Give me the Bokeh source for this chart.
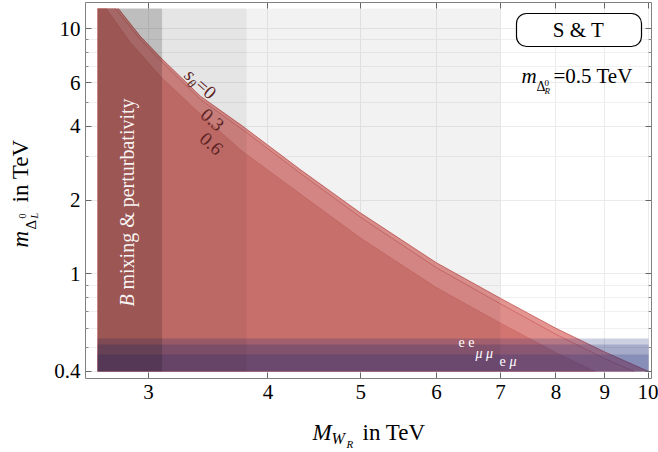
import math
from bokeh.plotting import figure
from bokeh.models import Range1d, FixedTicker, LogAxis, Label, BoxAnnotation, CustomJSTickFormatter, GridBox
from bokeh.embed import file_html
from bokeh.resources import INLINE

# ---------------- data ----------------
# exclusion curves m_DeltaL(M_WR) for s_theta = 0, 0.3, 0.6
x_s00 = [2.79, 2.94, 3.10, 3.40, 3.75, 4.33, 5.0, 6.0, 7.0, 8.0, 9.0, 10.0]
y_s00 = [12.07, 9.32, 7.51, 5.30, 4.04, 2.65, 1.77, 1.11, 0.795, 0.60, 0.48, 0.40]
x_s03 = [2.77, 2.94, 3.10, 3.40, 3.75, 4.33, 5.0, 6.0, 7.0, 8.0, 9.0, 9.65]
y_s03 = [12.07, 9.06, 7.30, 5.14, 3.91, 2.56, 1.70, 1.06, 0.755, 0.567, 0.451, 0.40]
x_s06 = [2.71, 2.87, 3.10, 3.40, 3.75, 4.33, 5.0, 6.0, 7.0, 8.0, 8.8]
y_s06 = [12.07, 8.81, 6.28, 4.48, 3.19, 2.11, 1.40, 0.88, 0.63, 0.478, 0.40]
region_xmin = 2.654
region_xmax = 10.0
region_ymin = 0.40
region_ymax = 12.07
# grey bounds (B mixing & perturbativity, etc.)
grey_right = [7.0, 3.8, 3.1]
grey_alpha = [0.05, 0.05, 0.17]
# lepton-flavour bands (ee, mu mu, e mu)
band_names = ["e e", "μ μ", "e μ"]
band_top = [0.545, 0.515, 0.469]

x_ticks = [3, 4, 5, 6, 7, 8, 9, 10]
y_ticks = [0.4, 1, 2, 4, 6, 10]
y_minor = [0.5, 0.6, 0.7, 0.8, 0.9, 3, 5, 7, 8, 9]

W, H = 658, 452
SERIF = "Liberation Serif"

p = figure(width=W, height=H, x_axis_type="log", y_axis_type="log",
           x_range=Range1d(2.578, 10.07), y_range=Range1d(0.3745, 12.77),
           output_backend="svg", toolbar_location=None,
           min_border_left=85, min_border_right=7, min_border_top=2, min_border_bottom=74)
p.frame_align = False
p.outline_line_color = "#808080"
p.outline_line_width = 1
p.background_fill_color = "white"

p.xgrid.ticker = FixedTicker(ticks=x_ticks)
p.ygrid.ticker = FixedTicker(ticks=y_ticks, minor_ticks=y_minor)
p.xgrid.grid_line_color = "#ebebeb"
p.ygrid.grid_line_color = "#ebebeb"
p.ygrid.minor_grid_line_color = "#f0f0f0"

fmt = CustomJSTickFormatter(code="return tick.toString();")

def style_axis(ax, labels=True):
    ax.axis_line_color = None
    ax.major_tick_in = 6
    ax.major_tick_out = 0
    ax.minor_tick_in = 3
    ax.minor_tick_out = 0
    ax.major_tick_line_color = "#666666"
    ax.minor_tick_line_color = "#888888"
    ax.formatter = fmt
    if labels:
        ax.major_label_text_font = SERIF
        ax.major_label_text_font_size = "21px"
        ax.major_label_text_color = "black"
    else:
        ax.major_label_text_font_size = "0px"
        ax.major_label_text_color = None
        ax.major_label_standoff = 0

xa = p.xaxis[0]
xa.ticker = FixedTicker(ticks=x_ticks)
style_axis(xa)
xa.major_label_standoff = 6
ya = p.yaxis[0]
ya.ticker = FixedTicker(ticks=y_ticks, minor_ticks=y_minor)
style_axis(ya)
ya.major_label_standoff = 5

top = LogAxis(ticker=FixedTicker(ticks=x_ticks))
style_axis(top, labels=False)
p.add_layout(top, "above")
right = LogAxis(ticker=FixedTicker(ticks=y_ticks, minor_ticks=y_minor))
style_axis(right, labels=False)
p.add_layout(right, "right")

def region(xs, ys):
    return [region_xmin, region_xmin] + xs, [region_ymin, region_ymax] + ys

for xs, ys, col in [(x_s00, y_s00, "#e39592"), (x_s03, y_s03, "#de8d8a"), (x_s06, y_s06, "#d27571")]:
    rx, ry = region(xs, ys)
    p.patch(rx, ry, fill_color=col, line_color=None)
for xs, ys, a in [(x_s00, y_s00, 0.8), (x_s03, y_s03, 0.6), (x_s06, y_s06, 0.35)]:
    p.line(xs, ys, line_color="#c45552", line_alpha=a, line_width=1)

p.quad(left=[region_xmin] * 3, right=[region_xmax] * 3, bottom=[region_ymin] * 3, top=band_top,
       fill_color="#1c2a77", fill_alpha=0.22, line_color=None)

p.quad(left=[region_xmin] * 3, right=grey_right, bottom=[region_ymin] * 3, top=[region_ymax] * 3,
       fill_color="black", fill_alpha=grey_alpha, line_color=None)

# ---------- transparent overlay for texts (page-pixel coordinates) ----------
q = figure(width=W, height=H, x_range=Range1d(0, W), y_range=Range1d(0, H),
           output_backend="svg", toolbar_location=None, title=None,
           x_axis_location=None, y_axis_location=None,
           min_border_left=0, min_border_right=0, min_border_top=0, min_border_bottom=0)
q.frame_align = False
q.xgrid.visible = False
q.ygrid.visible = False
q.outline_line_color = None
q.background_fill_color = None
q.border_fill_color = None

K = 0.32  # baseline correction (fraction of font size)

def lab(text, px, py, size, italic=False, color="black", angle=0.0, align="left", baseline="alphabetic", alpha=1.0):
    if baseline == "alphabetic":
        px -= K * size * math.sin(angle)
        py -= K * size * math.cos(angle)
    q.add_layout(Label(x=px, y=H - py, text=text, text_font=SERIF, text_font_size=f"{size}px",
                       text_font_style="italic" if italic else "normal", text_color=color, text_alpha=alpha,
                       angle=angle, text_align=align, text_baseline=baseline))

# x axis label
lab("M", 312, 439, 23, True)
lab("W", 331, 443, 16, True)
lab("R", 346, 447, 11, True)
lab("in TeV", 362, 439, 23)

# y axis label (rotated)
R90 = math.pi / 2
lab("m", 27, 247, 23, True, angle=R90)
lab("Δ", 35, 229, 15, angle=R90)
lab("0", 25, 218, 10, angle=R90)
lab("L", 37, 218, 10, True, angle=R90)
lab("in TeV", 27, 202, 23, angle=R90)

# legend box
q.add_layout(BoxAnnotation(left=516, right=641, top=H - 13, bottom=H - 46,
                           fill_color="white", fill_alpha=1, line_color="black", line_alpha=1,
                           line_width=1.2, border_radius=10))
lab("S & T", 578, 36, 21, align="center")

# m_DeltaR text
lab("m", 521, 82, 21, True)
lab("Δ", 536, 90, 14)
lab("0", 544, 85, 9)
lab("R", 544, 93, 9, True)
lab("=0.5 TeV", 553, 82, 21)

# B mixing text
lab("B", 133, 306, 20, True, color="white", angle=R90, alpha=0.95)
lab("mixing & perturbativity", 133, 289, 20, color="white", angle=R90, alpha=0.95)

# curve labels
A = -math.radians(42)
CRV = "#5c2424"
lab("s", 183, 76, 19, True, color=CRV, angle=A)
lab("θ", 186, 84, 13, True, color=CRV, angle=A)
lab("=0", 194, 86, 19, color=CRV, angle=A)
lab("0.3", 212, 119, 19, color=CRV, angle=A, align="center", baseline="middle")
lab("0.6", 211, 143, 19, color=CRV, angle=A, align="center", baseline="middle")

# band labels
WH = "white"
lab(band_names[0], 458, 346, 14, color=WH)
lab(band_names[1], 475, 357, 14, True, color=WH)
lab("e", 499, 365, 14, color=WH)
lab("μ", 509, 365, 14, True, color=WH)

layout = GridBox(children=[(p, 0, 0), (q, 0, 0)])
open("out.html", "w").write(file_html(layout, INLINE))
